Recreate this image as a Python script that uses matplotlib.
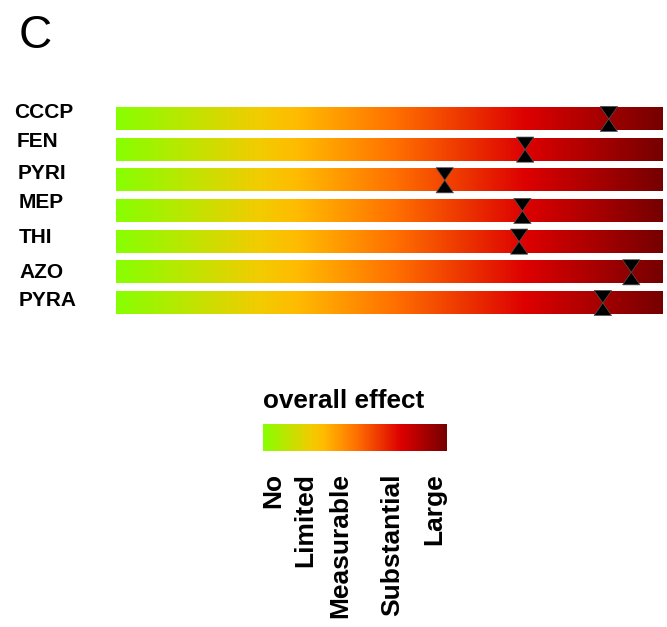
import numpy as np
import matplotlib
matplotlib.use('Agg')
import matplotlib.pyplot as plt
from matplotlib.colors import LinearSegmentedColormap
from matplotlib.patches import Polygon

plt.rcParams['font.family'] = ['Liberation Sans', 'DejaVu Sans']

# data (0 = no effect, 100 = large effect)
compounds = ['CCCP', 'FEN', 'PYRI', 'MEP', 'THI', 'AZO', 'PYRA']
effect = [90.1, 74.8, 60.1, 74.3, 73.7, 94.2, 89.0]
legendLabels = ['No', 'Limited', 'Measurable', 'Substantial', 'Large']

# layout helpers (pixels / fractions)
labelX = [14, 17, 18, 19, 19, 19, 19]
labelDy = [6.5, 8, 7, 8, 4, 0, 2]
legendPos = [0.054, 0.228, 0.418, 0.70, 0.93]

W, H = 667, 627
cmap = LinearSegmentedColormap.from_list('effect', [
    (0.0, '#88ff00'), (0.26, '#f2cc00'), (0.33, '#ffbb00'),
    (0.51, '#ff7000'), (0.75, '#dd0000'), (1.0, '#760000')])
grad = np.linspace(0, 1, 512).reshape(1, -1)

fig = plt.figure(figsize=(W / 100, H / 100), dpi=100)

ax = fig.add_axes([116 / W, 1 - 318.3 / H, 547 / W, 214.7 / H])
barH = 0.72
triW, triH = 3.2, 0.41
for i, (name, v) in enumerate(zip(compounds, effect)):
    ax.imshow(grad, cmap=cmap, aspect='auto',
              extent=[0, 100, i + barH / 2, i - barH / 2], zorder=1)
    top = Polygon([(v - triW / 2, i - triH), (v + triW / 2, i - triH), (v, i)],
                  closed=True, facecolor='black', edgecolor='#555555', lw=0.5, zorder=3)
    bot = Polygon([(v - triW / 2, i + triH), (v + triW / 2, i + triH), (v, i)],
                  closed=True, facecolor='black', edgecolor='#555555', lw=0.5, zorder=3)
    ax.add_patch(top)
    ax.add_patch(bot)
    ax.annotate(name, xy=(labelX[i], i), xycoords=('figure pixels', 'data'),
                xytext=(0, labelDy[i]), textcoords='offset pixels',
                ha='left', va='center', fontsize=15, fontweight='bold')
ax.set_xlim(0, 100)
ax.set_ylim(len(compounds) - 0.5, -0.5)
ax.axis('off')

# legend colour bar
cax = fig.add_axes([263 / W, 1 - 451 / H, 184 / W, 27 / H])
cax.imshow(grad, cmap=cmap, aspect='auto', extent=[0, 1, 0, 1])
cax.set_xlim(0, 1)
cax.axis('off')
fig.text(263 / W, 1 - 408 / H, 'overall effect', fontsize=18.8, fontweight='bold',
         ha='left', va='baseline')
for lab, p in zip(legendLabels, legendPos):
    fig.text((263 + p * 184) / W, 1 - 473 / H, lab, rotation=90, ha='center',
             va='top', fontsize=19, fontweight='bold')

fig.text(19 / W, 1 - 14 / H, 'C', fontsize=33, ha='left', va='top')

plt.savefig('out.png', dpi=100)
plt.close()
